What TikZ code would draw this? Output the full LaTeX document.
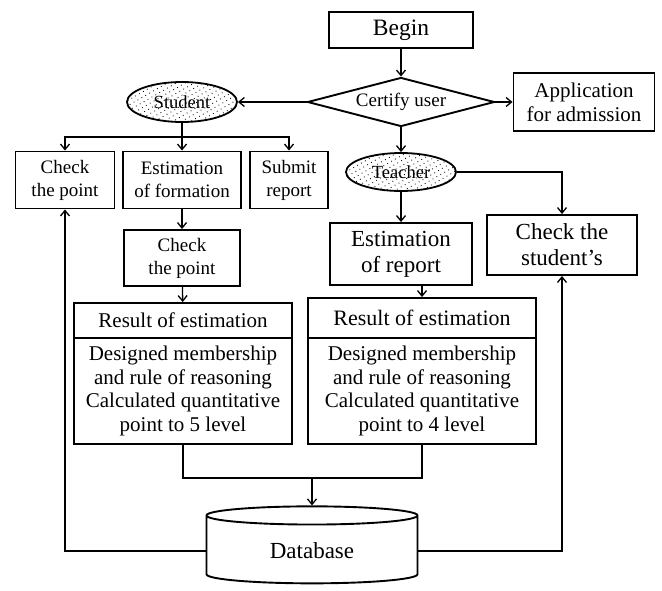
\documentclass[tikz,border=0pt]{standalone}
\usepackage{fontspec}
\setmainfont{Liberation Serif}
\usetikzlibrary{shapes.geometric,arrows.meta,patterns.meta}

\begin{document}
\begin{tikzpicture}[x=1pt, y=-1pt, line width=1.3pt, >={Straight Barb[length=5.5pt,width=9pt]},
                    main node/.style={rectangle,draw,line width=1.9pt,align=center,inner sep=0pt,font=\fontsize{19}{23}\selectfont},
                    user node/.style={ellipse,draw,line width=1.8pt,inner sep=0pt,font=\fontsize{18.5}{21}\selectfont,
                                      pattern={Dots[distance=4.5pt,angle=30,radius=0.6pt]},pattern color=black}]

  \useasboundingbox (0,0) rectangle (662,590);

  \node[main node,minimum width=144pt,minimum height=36pt,font=\fontsize{23.5}{27}\selectfont] (1) at (401,30) {Begin};
  \node[diamond,draw,line width=1.9pt,aspect=3.8,inner sep=1pt,minimum width=187pt,minimum height=49pt,
        font=\fontsize{19}{22}\selectfont] (2) at (401,102) {Certify user};
  \node[main node,minimum width=141pt,minimum height=58pt,font=\fontsize{21}{24}\selectfont] (3) at (584,102) {Application\\for admission};
  \node[user node,minimum width=110pt,minimum height=40pt] (4) at (182,102) {Student};
  \coordinate (a) at (182,137);

  \node[main node,minimum width=99pt,minimum height=57pt] (5) at (65,180) {Check\\the point};
  \node[main node,minimum width=118pt,minimum height=57pt] (6) at (182,180) {Estimation\\of formation};
  \node[main node,minimum width=78pt,minimum height=57pt] (7) at (289,180) {Submit\\report};
  \node[user node,minimum width=110pt,minimum height=38pt] (8) at (401,172) {Teacher};

  \node[main node,minimum width=116pt,minimum height=56pt] (9) at (182,258) {Check\\the point};
  \node[main node,minimum width=142pt,minimum height=62pt,font=\fontsize{23}{26}\selectfont] (10) at (401,254) {Estimation\\of report};
  \node[main node,minimum width=150pt,minimum height=60pt,font=\fontsize{23}{26}\selectfont] (11) at (562,245) {Check the\\student's};

  \node[main node,minimum width=218pt,minimum height=35pt,font=\fontsize{21}{24}\selectfont] (12) at (183,320.5) {Result of estimation};
  \node[main node,minimum width=218pt,minimum height=106pt,font=\fontsize{21}{23.5}\selectfont] (13) at (183,391)
       {Designed membership\\and rule of reasoning\\Calculated quantitative\\point to 5 level};
  \node[main node,minimum width=228pt,minimum height=40pt,font=\fontsize{22}{25}\selectfont] (14) at (422,318) {Result of estimation};
  \node[main node,minimum width=228pt,minimum height=106pt,font=\fontsize{21}{23.5}\selectfont] (15) at (422,391)
       {Designed membership\\and rule of reasoning\\Calculated quantitative\\point to 4 level};
  \coordinate (b) at (312,478);

  \node[cylinder,shape border rotate=90,draw,line width=1.9pt,aspect=0.2,minimum width=211pt,minimum height=77pt,
        font=\fontsize{23}{26}\selectfont] (16) at (312,551) {Database};

  \draw[->] (1) -- (2);
  \draw[->] (2) -- (4);
  \draw[->] (2) -- (3);
  \draw[->] (2) -- (8);
  \draw (4) -- (a);
  \draw[->] (a) -| (5);
  \draw[->] (a) -- (6);
  \draw[->] (a) -| (7);
  \draw[->] (6) -- (9);
  \draw[->] (8) -| (11);
  \draw[->] (8) -- (10);
  \draw[->] (9) -- (12);
  \draw[->] (10.south -| 14.north) -- (14.north);
  \draw (13.south) |- (b) -| (15.south);
  \draw[->] (b) -- (16);
  \draw[->] (16) -| (5);
  \draw[->] (16) -| (11);

\end{tikzpicture}
\end{document}
